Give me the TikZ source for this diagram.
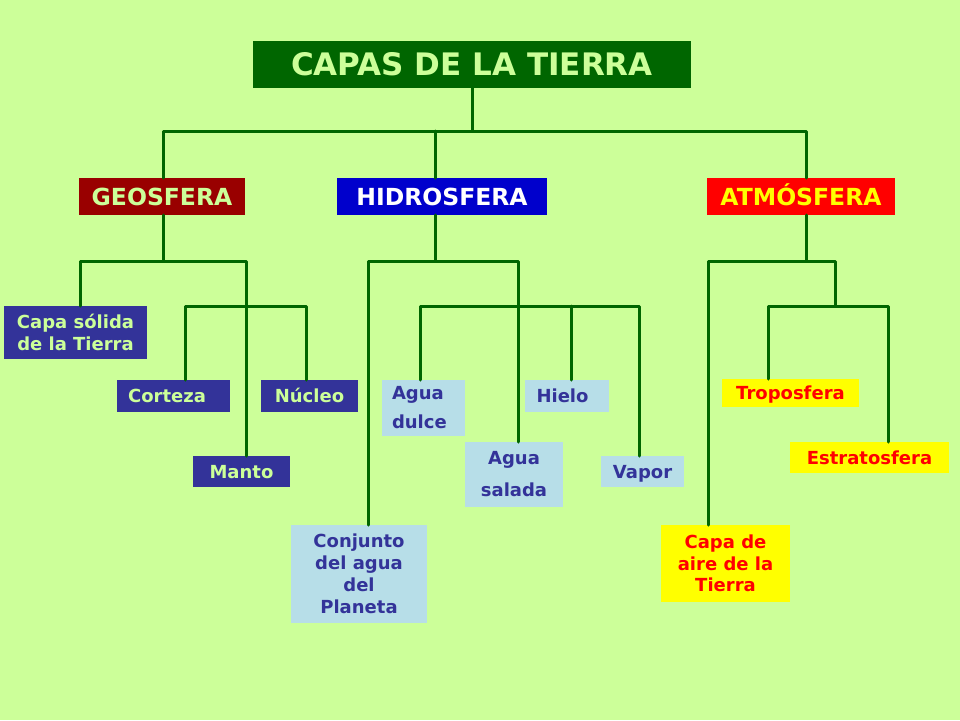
\documentclass[tikz,border=0pt]{standalone}
\usepackage{fontspec}
\setmainfont{DejaVu Sans}
\definecolor{bg}{HTML}{CCFF99}
\definecolor{lgreen}{HTML}{CCFF99}
\definecolor{dgreen}{HTML}{006600}
\definecolor{dred}{HTML}{990000}
\definecolor{hblue}{HTML}{0000CC}
\definecolor{navy}{HTML}{333399}
\definecolor{lblue}{HTML}{B7DEE8}
\definecolor{ylw}{HTML}{FFFF00}
\definecolor{rd}{HTML}{FF0000}
\begin{document}
\begin{tikzpicture}[x=1pt,y=-1pt,
  box/.style={inner sep=0pt,outer sep=0pt,align=center,font=\bfseries},
  one/.style={text height=13.1pt,text depth=0pt},
  big/.style={box,text height=17.1pt,text depth=0pt,font=\bfseries\fontsize{23.5}{27}\selectfont},
  navybox/.style={box,fill=navy,text=lgreen,font=\bfseries\fontsize{18}{21}\selectfont},
  bluebox/.style={box,fill=lblue,text=navy,font=\bfseries\fontsize{18}{21}\selectfont},
  ylwbox/.style={box,fill=ylw,text=rd,font=\bfseries\fontsize{18}{21}\selectfont},
  link/.style={draw=dgreen,line width=3pt,line join=round,line cap=round}]
\fill[bg] (0,0) rectangle (960,720);
\useasboundingbox (0,0) rectangle (960,720);
% main nodes
\node[box,text height=22.6pt,text depth=0pt,fill=dgreen,text=lgreen,minimum width=438,minimum height=47,font=\bfseries\fontsize{31}{35}\selectfont] (title) at (472,64.5) {CAPAS DE LA TIERRA};
\node[big,fill=dred,text=lgreen,minimum width=166,minimum height=37] (geo) at (162,196.5) {GEOSFERA};
\node[big,fill=hblue,text=white,minimum width=210,minimum height=37] (hidro) at (442,196.5) {HIDROSFERA};
\node[big,fill=rd,text=ylw,minimum width=188,minimum height=37] (atm) at (801,196.5) {ATMÓSFERA};
% geosfera
\node[navybox,minimum width=143,minimum height=53,font=\bfseries\fontsize{18}{21.5}\selectfont] (capa) at (75.5,332.5) {Capa sólida\\de la Tierra};
\node[navybox,one,minimum width=113,minimum height=32] (corteza) at (173.5,396) {\hspace*{-13pt}Corteza};
\node[navybox,one,minimum width=97,minimum height=32] (nucleo) at (309.5,396) {Núcleo};
\node[navybox,one,minimum width=97,minimum height=31] (manto) at (241.5,471.5) {Manto};
% hidrosfera
\node[bluebox,minimum width=83,minimum height=56,text width=63pt,inner xsep=10pt,font=\bfseries\fontsize{18}{29}\selectfont,align=left] (dulce) at (423.5,408) {Agua\\dulce};
\node[bluebox,one,minimum width=84,minimum height=32] (hielo) at (567,396) {\hspace*{-9pt}Hielo};
\node[bluebox,minimum width=98,minimum height=65,font=\bfseries\fontsize{18}{32}\selectfont] (salada) at (514,474.5) {Agua\\salada};
\node[bluebox,one,minimum width=83,minimum height=31] (vapor) at (642.5,471.5) {Vapor};
\node[bluebox,minimum width=136,minimum height=98,font=\bfseries\fontsize{18}{22}\selectfont] (conj) at (359,574) {Conjunto\\del agua\\del\\Planeta};
% atmosfera
\node[ylwbox,one,minimum width=137,minimum height=28] (tropo) at (790.5,393) {Troposfera};
\node[ylwbox,one,minimum width=159,minimum height=31] (estrato) at (869.5,457.5) {Estratosfera};
\node[ylwbox,minimum width=129,minimum height=77,font=\bfseries\fontsize{18}{21.5}\selectfont] (aire) at (725.5,563.5) {Capa de\\aire de la\\Tierra};
% junction coordinates
\coordinate (t1) at (163,131); \coordinate (t2) at (435,131); \coordinate (t3) at (806,131);
\coordinate (gm) at (163,261); \coordinate (g1) at (80,261); \coordinate (g2) at (246,261);
\coordinate (g3) at (185,306); \coordinate (g4) at (306,306);
\coordinate (hm) at (435,261); \coordinate (h1) at (368,261); \coordinate (h2) at (518,261);
\coordinate (h3) at (420,306); \coordinate (h4) at (571,306); \coordinate (h5) at (639,306);
\coordinate (am) at (806,261); \coordinate (a1) at (708,261); \coordinate (a2) at (835,261);
\coordinate (a3) at (768,306); \coordinate (a4) at (888,306);
% connectors
\draw[link] (title.south) -- (title.south |- t1);
\draw[link] (geo.north -| t1) |- (t3) -- (atm.north -| t3);
\draw[link] (t2) -- (hidro.north -| t2);
% geosfera
\draw[link] (geo.south -| gm) -- (gm);
\draw[link] (capa.north -| g1) |- (g2) -- (manto.north -| g2);
\draw[link] (corteza.north -| g3) |- (g4) -- (nucleo.north -| g4);
% hidrosfera
\draw[link] (hidro.south -| hm) -- (hm);
\draw[link] (conj.north -| h1) |- (h2) -- (salada.north -| h2);
\draw[link] (dulce.north -| h3) |- (h5) -- (vapor.north -| h5);
\draw[link] (h4) -- (hielo.north -| h4);
% atmosfera
\draw[link] (atm.south -| am) -- (am);
\draw[link] (aire.north -| a1) |- (a2) -- (a2 |- a3);
\draw[link] (tropo.north -| a3) |- (a4) -- (estrato.north -| a4);
\end{tikzpicture}
\end{document}
